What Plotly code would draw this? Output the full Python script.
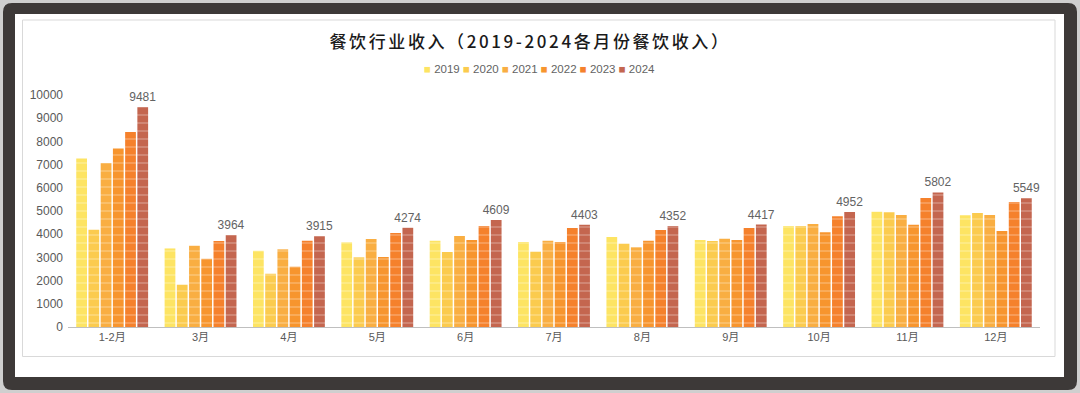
import plotly.graph_objects as go

categories = ["1-2月", "3月", "4月", "5月", "6月", "7月", "8月", "9月", "10月", "11月", "12月"]
years = ["2019", "2020", "2021", "2022", "2023", "2024"]
v2019 = [7260, 3386, 3285, 3649, 3721, 3664, 3879, 3750, 4353, 4971, 4813]
v2020 = [4190, 1822, 2296, 3003, 3233, 3247, 3592, 3707, 4353, 4943, 4914]
v2021 = [7073, 3501, 3348, 3793, 3922, 3721, 3434, 3807, 4440, 4828, 4828]
v2022 = [7690, 2941, 2600, 3017, 3750, 3664, 3721, 3750, 4080, 4411, 4138]
v2023 = [8407, 3702, 3721, 4052, 4353, 4267, 4181, 4267, 4770, 5560, 5388]
v2024 = [9481, 3964, 3915, 4274, 4609, 4403, 4352, 4417, 4952, 5802, 5549]
series = [v2019, v2020, v2021, v2022, v2023, v2024]
colors = ["#fde463", "#fbcb4e", "#f9ae42", "#f7952e", "#f5812c", "#c4664f"]
title_text = "餐饮行业收入（2019-2024各月份餐饮收入）"

W, H = 1080, 393
L, R, T, B = 68, 40, 95, 66
PW, PH = W - L - R, H - T - B

def px(x):
    return (x - L) / PW

def py(y):
    return (H - B - y) / PH

def rounded(x0, y0, x1, y1, r):
    rx, ry = r / PW, r / PH
    a, b, c, d = px(x0), py(y0), px(x1), py(y1)  # b top, d bottom
    return (f"M {a+rx},{b} L {c-rx},{b} Q {c},{b} {c},{b-ry} "
            f"L {c},{d+ry} Q {c},{d} {c-rx},{d} L {a+rx},{d} "
            f"Q {a},{d} {a},{d+ry} L {a},{b-ry} Q {a},{b} {a+rx},{b} Z")

fig = go.Figure()
for yr, vals, col in zip(years, series, colors):
    is_last = yr == years[-1]
    fig.add_trace(go.Bar(
        name=yr, x=categories, y=vals,
        marker=dict(color=col, line=dict(width=0),
                    pattern=dict(shape="-", fgcolor="#ffffff", fgopacity=0.4,
                                 size=8, solidity=0.13)),
        texttemplate="%{y}" if is_last else None,
        textposition="outside" if is_last else "none",
        constraintext="none",
        textfont=dict(color="#636363", size=12, family="Liberation Sans, Arial, sans-serif"),
        cliponaxis=False,
        showlegend=False,
    ))

# compact legend built from the series names and colours
legend_text = "&nbsp;".join(
    f"<span style='color:{c}'>■</span>&nbsp;{y}" for y, c in zip(years, colors))

shapes = [
    dict(type="path", path=rounded(3, 3, 1077, 390, 9), xref="paper", yref="paper",
         fillcolor="#3d3938", line=dict(width=0), layer="below"),
    dict(type="rect", x0=px(15), x1=px(1064), y0=py(377), y1=py(14), xref="paper", yref="paper",
         fillcolor="#ffffff", line=dict(width=0), layer="below"),
    dict(type="rect", x0=px(22.5), x1=px(1055), y0=py(356.5), y1=py(20), xref="paper", yref="paper",
         fillcolor="rgba(0,0,0,0)", line=dict(width=1, color="#d9d9d9"), layer="below"),
]

fig.update_layout(
    width=W, height=H,
    margin=dict(l=L, r=R, t=T, b=B, autoexpand=False),
    paper_bgcolor="#cfcfcf",
    plot_bgcolor="rgba(0,0,0,0)",
    barmode="group", bargap=0.17, bargroupgap=0.12,
    font=dict(family="Liberation Sans, Arial, Noto Sans CJK SC, sans-serif", color="#595959", size=11),
    title=dict(text=f"<span style='letter-spacing:2.6px'>{title_text}</span>",
               x=530 / W, xanchor="center", y=1 - 42 / H, yanchor="middle",
               xref="container", yref="container",
               font=dict(family="Noto Sans CJK SC, sans-serif", size=17, color="#1a1a1a", weight=500)),
    annotations=[dict(text=legend_text, xref="paper", yref="paper", x=px(539), y=py(69),
                      xanchor="center", yanchor="middle", showarrow=False,
                      font=dict(size=11.5, color="#636363", family="Liberation Sans, DejaVu Sans, sans-serif"))],
    shapes=shapes,
    xaxis=dict(showgrid=False, showline=True, linecolor="#bfbfbf", linewidth=1, automargin=False,
               ticks="", tickfont=dict(size=11, color="#595959",
                                       family="Liberation Sans, Noto Sans CJK SC, sans-serif"),
               fixedrange=True),
    yaxis=dict(range=[0, 10000], dtick=1000, tickformat="d", showgrid=False, zeroline=False,
               showline=False, automargin=False,
               ticks="", tickfont=dict(size=12, color="#595959", family="Liberation Sans, Arial, sans-serif"),
               ticklabelstandoff=4, fixedrange=True),
    showlegend=False,
)

fig.write_html("out.html", config={"displayModeBar": False},
               post_script="document.body.style.margin='0';document.body.style.overflow='hidden';")
